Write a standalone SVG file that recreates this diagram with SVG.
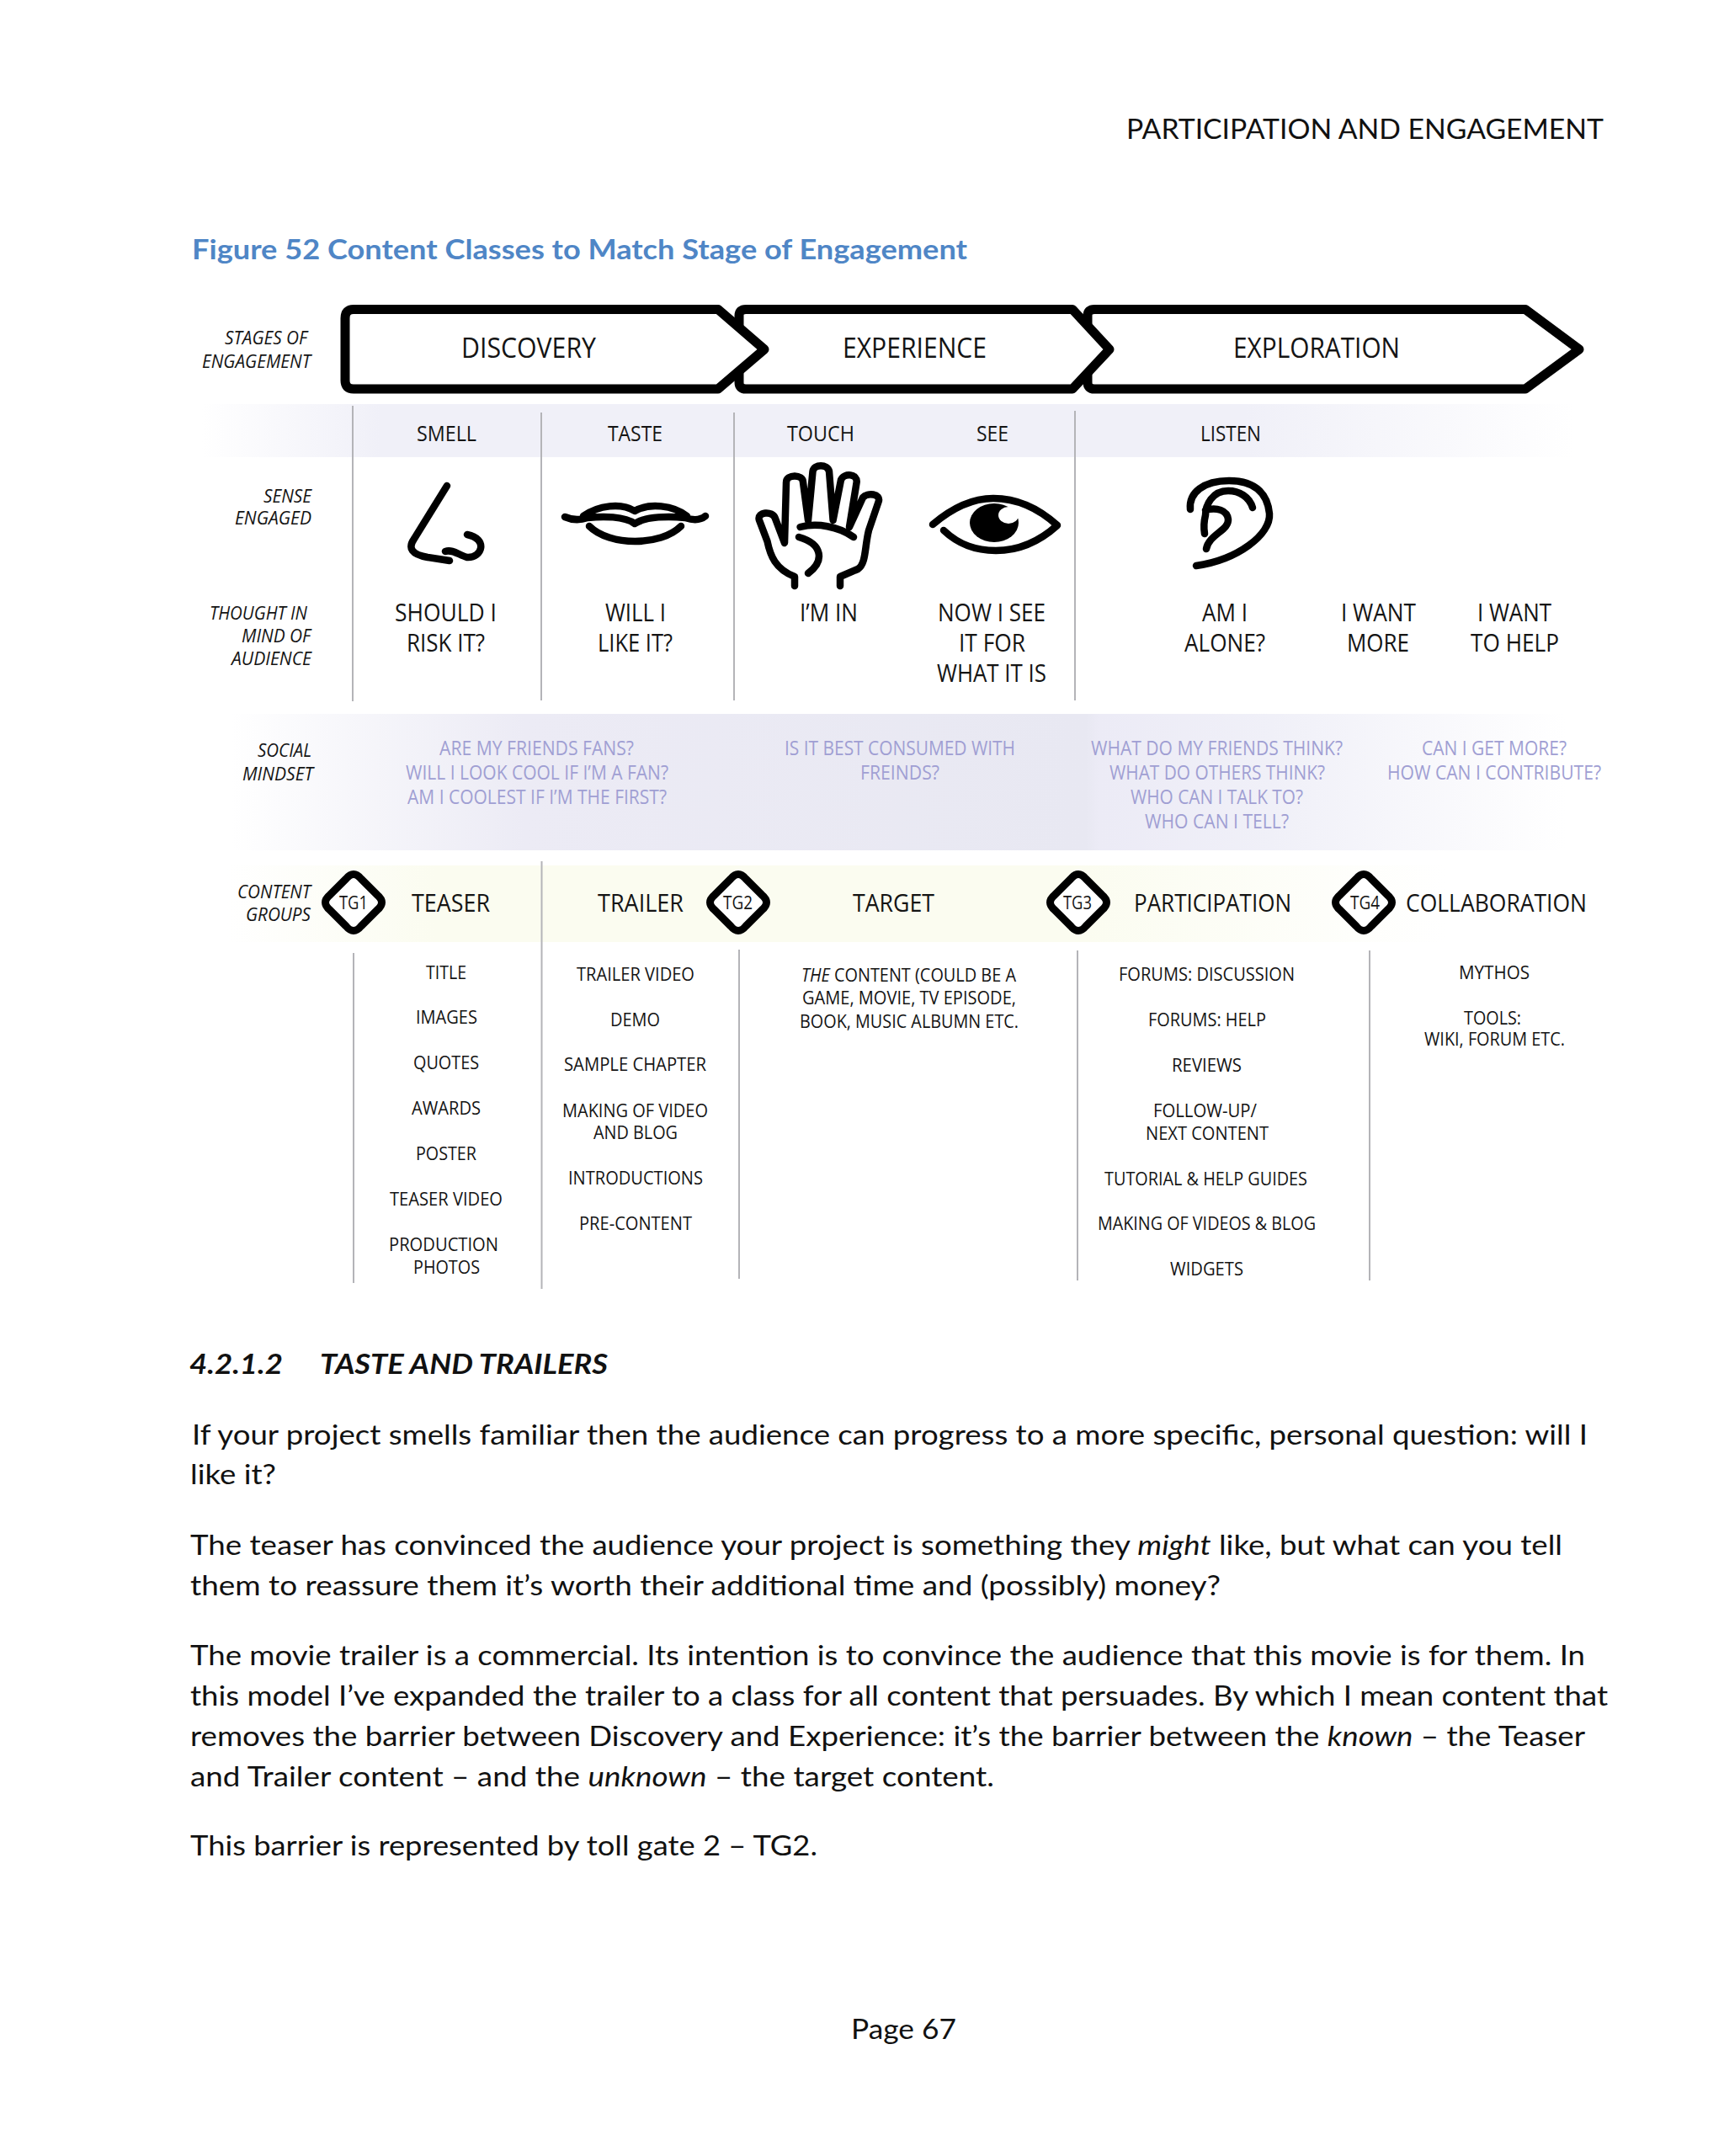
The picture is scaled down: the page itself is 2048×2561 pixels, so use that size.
<svg xmlns="http://www.w3.org/2000/svg" width="2048" height="2561" viewBox="0 0 2048 2561">
<style>
text{font-family:"Open Sans","Liberation Sans",sans-serif;fill:#141414}
.b{font-family:Lato,"Liberation Sans",sans-serif;font-size:33px;fill:#111}
.it{font-style:italic}
.lab{font-style:italic;font-size:21px}
.st{font-size:33px}
.se{font-size:26px}
.th{font-size:30px}
.so{font-size:23px;fill:#a09fd3}
.gr{font-size:30px}
.li{font-size:22px}
.tg{font-size:21px}
.ar{fill:#fff;stroke:#000;stroke-width:11;stroke-linejoin:round}
.ic{fill:none;stroke:#000;stroke-width:8.5;stroke-linecap:round;stroke-linejoin:round}
.v{stroke:#b4b4b8;stroke-width:2;fill:none}
.dm{fill:#fff;stroke:#000;stroke-width:9}
</style>
<defs>
<linearGradient id="gs" gradientUnits="userSpaceOnUse" x1="240" y1="0" x2="1870" y2="0">
<stop offset="0" stop-color="#f0f0f8" stop-opacity="0"/><stop offset=".13" stop-color="#f0f0f8"/><stop offset=".76" stop-color="#f0f0f8"/><stop offset="1" stop-color="#f0f0f8" stop-opacity="0"/>
</linearGradient>
<linearGradient id="gm" gradientUnits="userSpaceOnUse" x1="275" y1="0" x2="1860" y2="0">
<stop offset="0" stop-color="#eaeaf4" stop-opacity="0"/><stop offset=".22" stop-color="#ecebf5"/><stop offset=".64" stop-color="#e8e8f2"/><stop offset=".65" stop-color="#ecebf6"/><stop offset=".78" stop-color="#f0f0f8"/><stop offset="1" stop-color="#f0f0f8" stop-opacity="0"/>
</linearGradient>
<linearGradient id="gg" gradientUnits="userSpaceOnUse" x1="270" y1="0" x2="1720" y2="0">
<stop offset="0" stop-color="#fbfcf0" stop-opacity="0"/><stop offset=".17" stop-color="#fbfcf0"/><stop offset=".7" stop-color="#fbfcf0"/><stop offset="1" stop-color="#fbfcf0" stop-opacity="0"/>
</linearGradient>
<path id="dia" d="M-9,-28 Q0,-39 9,-28 L28,-9 Q39,0 28,9 L9,28 Q0,39 -9,28 L-28,9 Q-39,0 -28,-9Z"/>
</defs>
<rect width="2048" height="2561" fill="#fff"/>

<g id="page-header">
<text class="b" x="1338" y="165" textLength="567" lengthAdjust="spacingAndGlyphs">PARTICIPATION AND ENGAGEMENT</text>
<text class="b" x="228" y="308" textLength="921" lengthAdjust="spacingAndGlyphs" style="font-weight:700;fill:#4f86c6">Figure 52 Content Classes to Match Stage of Engagement</text>
</g>

<g id="bands">
<rect x="240" y="480" width="1630" height="63" fill="url(#gs)"/>
<rect x="275" y="848" width="1585" height="162" fill="url(#gm)"/>
<rect x="270" y="1028" width="1450" height="91" fill="url(#gg)"/>
</g>

<g id="connectors">
<path class="v" d="M419,482V833M643,490V832M872,490V832M1277,488V832M420,1132V1524M643.500,1023V1531M878,1128V1519M1280,1129V1521M1627,1129V1521"/>
</g>

<g id="row-labels">
<text class="lab" x="267" y="409" textLength="98" lengthAdjust="spacingAndGlyphs">STAGES OF</text>
<text class="lab" x="240" y="437" textLength="129" lengthAdjust="spacingAndGlyphs">ENGAGEMENT</text>
<text class="lab" x="313" y="597" textLength="57" lengthAdjust="spacingAndGlyphs">SENSE</text>
<text class="lab" x="279" y="623" textLength="91" lengthAdjust="spacingAndGlyphs">ENGAGED</text>
<text class="lab" x="249" y="736" textLength="116" lengthAdjust="spacingAndGlyphs">THOUGHT IN</text>
<text class="lab" x="287" y="763" textLength="82" lengthAdjust="spacingAndGlyphs">MIND OF</text>
<text class="lab" x="275" y="790" textLength="95" lengthAdjust="spacingAndGlyphs">AUDIENCE</text>
<text class="lab" x="306" y="899" textLength="64" lengthAdjust="spacingAndGlyphs">SOCIAL</text>
<text class="lab" x="288" y="927" textLength="84" lengthAdjust="spacingAndGlyphs">MINDSET</text>
<text class="lab" x="282" y="1067" textLength="87" lengthAdjust="spacingAndGlyphs">CONTENT</text>
<text class="lab" x="292" y="1094" textLength="77" lengthAdjust="spacingAndGlyphs">GROUPS</text>
</g>

<g id="stage-exploration">
<path class="ar" d="M1292,375Q1292,367.500 1300,367.500H1812L1876,415L1812,462H1300Q1292,462 1292,454Z"/>
<text class="st" x="1465" y="425" textLength="198" lengthAdjust="spacingAndGlyphs">EXPLORATION</text>
</g>
<g id="stage-experience">
<path class="ar" d="M878,375Q878,367.500 886,367.500H1274L1318,415L1274,462H886Q878,462 878,454Z"/>
<text class="st" x="1001" y="425" textLength="171" lengthAdjust="spacingAndGlyphs">EXPERIENCE</text>
</g>
<g id="stage-discovery">
<path class="ar" d="M410,378Q410,367.500 420,367.500H853L908,415L853,462H420Q410,462 410,452Z"/>
<text class="st" x="548" y="425" textLength="160" lengthAdjust="spacingAndGlyphs">DISCOVERY</text>
</g>

<g id="sense-smell">
<text class="se" x="495" y="524" textLength="71" lengthAdjust="spacingAndGlyphs">SMELL</text>
<path class="ic" d="M531,577L492,640Q480,657 508,662L534,666M529,655C538,652 546,660 555,662C573,663 580,640 555,635"/>
<text class="th" x="469" y="738" textLength="121" lengthAdjust="spacingAndGlyphs">SHOULD I</text>
<text class="th" x="483" y="774" textLength="93" lengthAdjust="spacingAndGlyphs">RISK IT?</text>
</g>
<g id="sense-taste">
<text class="se" x="722" y="524" textLength="65" lengthAdjust="spacingAndGlyphs">TASTE</text>
<path class="ic" d="M671,614C680,618 689,618 698,615C716,613 742,613 754,622C767,613 796,613 814,615C823,618 832,618 838,613M693,613C711,600 738,597 754,607C771,597 800,600 816,613M700,625C724,649 785,649 809,625"/>
<text class="th" x="719" y="738" textLength="72" lengthAdjust="spacingAndGlyphs">WILL I</text>
<text class="th" x="710" y="774" textLength="89" lengthAdjust="spacingAndGlyphs">LIKE IT?</text>
</g>
<g id="sense-touch">
<text class="se" x="935" y="524" textLength="80" lengthAdjust="spacingAndGlyphs">TOUCH</text>
<path class="ic" transform="translate(-1,3)" d="M945,693V682C922,673 916,657 912.500,640L903,615C899.500,605 919,603 922,613L933,642L935,570C935,560 955,560 955,570L961,615L966.500,557C968,548 984,548 986,557L990.600,615L1000,567C1004,558 1020,560 1018.600,570L1010,623L1026,588C1031,582 1048,583 1044.600,593L1033,627C1028,647 1030,667 1020,673L999,682V693M951.600,623C971,618 997,622 1015,635M950,635C978,643 981,663 961,678"/>
<text class="th" x="950" y="738" textLength="69" lengthAdjust="spacingAndGlyphs">I’M IN</text>
</g>
<g id="sense-see">
<text class="se" x="1160" y="524" textLength="38" lengthAdjust="spacingAndGlyphs">SEE</text>
<path class="ic" d="M1108,623C1135,600 1160,592 1180,592C1210,592 1235,605 1256,624C1235,643 1210,654 1183,654C1160,654 1140,648 1121,630"/>
<ellipse cx="1181" cy="621" rx="29" ry="23"/>
<ellipse cx="1198" cy="612" rx="12" ry="10" fill="#fff"/>
<text class="th" x="1114" y="738" textLength="128" lengthAdjust="spacingAndGlyphs">NOW I SEE</text>
<text class="th" x="1139" y="774" textLength="79" lengthAdjust="spacingAndGlyphs">IT FOR</text>
<text class="th" x="1113" y="810" textLength="130" lengthAdjust="spacingAndGlyphs">WHAT IT IS</text>
</g>
<g id="sense-listen">
<text class="se" x="1426" y="524" textLength="72" lengthAdjust="spacingAndGlyphs">LISTEN</text>
<path class="ic" d="M1421,672C1470,665 1510,635 1508,610C1506,590 1495,571 1460,571C1430,571 1412,585 1414,605M1488,603C1484,590 1472,583 1459,583C1440,583 1432,600 1432,612C1430,620 1430,628 1431,634M1432,606C1445,602 1458,606 1459,617C1460,630 1436,635 1433,652"/>
<text class="th" x="1428" y="738" textLength="54" lengthAdjust="spacingAndGlyphs">AM I</text>
<text class="th" x="1407" y="774" textLength="96" lengthAdjust="spacingAndGlyphs">ALONE?</text>
</g>
<g id="thought-more">
<text class="th" x="1593" y="738" textLength="89" lengthAdjust="spacingAndGlyphs">I WANT</text>
<text class="th" x="1600" y="774" textLength="74" lengthAdjust="spacingAndGlyphs">MORE</text>
</g>
<g id="thought-help">
<text class="th" x="1755" y="738" textLength="88" lengthAdjust="spacingAndGlyphs">I WANT</text>
<text class="th" x="1747" y="774" textLength="105" lengthAdjust="spacingAndGlyphs">TO HELP</text>
</g>

<g id="social-mindset">
<text class="so" x="522" y="897" textLength="231" lengthAdjust="spacingAndGlyphs">ARE MY FRIENDS FANS?</text>
<text class="so" x="482" y="926" textLength="312" lengthAdjust="spacingAndGlyphs">WILL I LOOK COOL IF I’M A FAN?</text>
<text class="so" x="484" y="955" textLength="308" lengthAdjust="spacingAndGlyphs">AM I COOLEST IF I’M THE FIRST?</text>
<text class="so" x="932" y="897" textLength="274" lengthAdjust="spacingAndGlyphs">IS IT BEST CONSUMED WITH</text>
<text class="so" x="1022" y="926" textLength="94" lengthAdjust="spacingAndGlyphs">FREINDS?</text>
<text class="so" x="1296" y="897" textLength="299" lengthAdjust="spacingAndGlyphs">WHAT DO MY FRIENDS THINK?</text>
<text class="so" x="1318" y="926" textLength="256" lengthAdjust="spacingAndGlyphs">WHAT DO OTHERS THINK?</text>
<text class="so" x="1343" y="955" textLength="205" lengthAdjust="spacingAndGlyphs">WHO CAN I TALK TO?</text>
<text class="so" x="1360" y="984" textLength="171" lengthAdjust="spacingAndGlyphs">WHO CAN I TELL?</text>
<text class="so" x="1689" y="897" textLength="172" lengthAdjust="spacingAndGlyphs">CAN I GET MORE?</text>
<text class="so" x="1648" y="926" textLength="254" lengthAdjust="spacingAndGlyphs">HOW CAN I CONTRIBUTE?</text>
</g>

<g id="tg1"><use href="#dia" x="420" y="1072" class="dm"/><text class="tg" x="403" y="1080" textLength="34" lengthAdjust="spacingAndGlyphs">TG1</text></g>
<g id="tg2"><use href="#dia" x="877" y="1072" class="dm"/><text class="tg" x="859" y="1080" textLength="35" lengthAdjust="spacingAndGlyphs">TG2</text></g>
<g id="tg3"><use href="#dia" x="1281" y="1072" class="dm"/><text class="tg" x="1263" y="1080" textLength="34" lengthAdjust="spacingAndGlyphs">TG3</text></g>
<g id="tg4"><use href="#dia" x="1620" y="1072" class="dm"/><text class="tg" x="1604" y="1080" textLength="35" lengthAdjust="spacingAndGlyphs">TG4</text></g>

<g id="group-teaser">
<text class="gr" x="489" y="1083" textLength="93" lengthAdjust="spacingAndGlyphs">TEASER</text>
<text class="li" x="506" y="1163" textLength="48" lengthAdjust="spacingAndGlyphs">TITLE</text>
<text class="li" x="494" y="1216" textLength="73" lengthAdjust="spacingAndGlyphs">IMAGES</text>
<text class="li" x="491" y="1270" textLength="78" lengthAdjust="spacingAndGlyphs">QUOTES</text>
<text class="li" x="489" y="1324" textLength="82" lengthAdjust="spacingAndGlyphs">AWARDS</text>
<text class="li" x="494" y="1378" textLength="72" lengthAdjust="spacingAndGlyphs">POSTER</text>
<text class="li" x="463" y="1432" textLength="134" lengthAdjust="spacingAndGlyphs">TEASER VIDEO</text>
<text class="li" x="462" y="1486" textLength="130" lengthAdjust="spacingAndGlyphs">PRODUCTION</text>
<text class="li" x="491" y="1513" textLength="79" lengthAdjust="spacingAndGlyphs">PHOTOS</text>
</g>
<g id="group-trailer">
<text class="gr" x="710" y="1083" textLength="102" lengthAdjust="spacingAndGlyphs">TRAILER</text>
<text class="li" x="685" y="1165" textLength="140" lengthAdjust="spacingAndGlyphs">TRAILER VIDEO</text>
<text class="li" x="725" y="1219" textLength="59" lengthAdjust="spacingAndGlyphs">DEMO</text>
<text class="li" x="670" y="1272" textLength="169" lengthAdjust="spacingAndGlyphs">SAMPLE CHAPTER</text>
<text class="li" x="668" y="1327" textLength="173" lengthAdjust="spacingAndGlyphs">MAKING OF VIDEO</text>
<text class="li" x="705" y="1353" textLength="100" lengthAdjust="spacingAndGlyphs">AND BLOG</text>
<text class="li" x="675" y="1407" textLength="160" lengthAdjust="spacingAndGlyphs">INTRODUCTIONS</text>
<text class="li" x="688" y="1461" textLength="134" lengthAdjust="spacingAndGlyphs">PRE-CONTENT</text>
</g>
<g id="group-target">
<text class="gr" x="1013" y="1083" textLength="97" lengthAdjust="spacingAndGlyphs">TARGET</text>
<text class="li" x="952" y="1166" textLength="255" lengthAdjust="spacingAndGlyphs"><tspan class="it">THE</tspan> CONTENT (COULD BE A</text>
<text class="li" x="953" y="1193" textLength="254" lengthAdjust="spacingAndGlyphs">GAME, MOVIE, TV EPISODE,</text>
<text class="li" x="950" y="1221" textLength="260" lengthAdjust="spacingAndGlyphs">BOOK, MUSIC ALBUMN ETC.</text>
</g>
<g id="group-participation">
<text class="gr" x="1347" y="1083" textLength="187" lengthAdjust="spacingAndGlyphs">PARTICIPATION</text>
<text class="li" x="1329" y="1165" textLength="209" lengthAdjust="spacingAndGlyphs">FORUMS: DISCUSSION</text>
<text class="li" x="1364" y="1219" textLength="140" lengthAdjust="spacingAndGlyphs">FORUMS: HELP</text>
<text class="li" x="1392" y="1273" textLength="83" lengthAdjust="spacingAndGlyphs">REVIEWS</text>
<text class="li" x="1370" y="1327" textLength="123" lengthAdjust="spacingAndGlyphs">FOLLOW-UP/</text>
<text class="li" x="1361" y="1354" textLength="146" lengthAdjust="spacingAndGlyphs">NEXT CONTENT</text>
<text class="li" x="1312" y="1408" textLength="241" lengthAdjust="spacingAndGlyphs">TUTORIAL &amp; HELP GUIDES</text>
<text class="li" x="1304" y="1461" textLength="259" lengthAdjust="spacingAndGlyphs">MAKING OF VIDEOS &amp; BLOG</text>
<text class="li" x="1390" y="1515" textLength="87" lengthAdjust="spacingAndGlyphs">WIDGETS</text>
</g>
<g id="group-collaboration">
<text class="gr" x="1670" y="1083" textLength="215" lengthAdjust="spacingAndGlyphs">COLLABORATION</text>
<text class="li" x="1733" y="1163" textLength="84" lengthAdjust="spacingAndGlyphs">MYTHOS</text>
<text class="li" x="1739" y="1217" textLength="68" lengthAdjust="spacingAndGlyphs">TOOLS:</text>
<text class="li" x="1692" y="1242" textLength="167" lengthAdjust="spacingAndGlyphs">WIKI, FORUM ETC.</text>
</g>

<g id="body-text">
<text class="b" x="225" y="1632" textLength="111" lengthAdjust="spacingAndGlyphs" style="font-weight:700;font-style:italic">4.2.1.2</text>
<text class="b" x="380" y="1632" textLength="342" lengthAdjust="spacingAndGlyphs" style="font-weight:700;font-style:italic">TASTE AND TRAILERS</text>
<text class="b" x="228" y="1716" textLength="1658" lengthAdjust="spacingAndGlyphs">If your project smells familiar then the audience can progress to a more specific, personal question: will I</text>
<text class="b" x="226" y="1763" textLength="102" lengthAdjust="spacingAndGlyphs">like it?</text>
<text class="b" x="226" y="1847" textLength="1630" lengthAdjust="spacingAndGlyphs">The teaser has convinced the audience your project is something they <tspan class="it">might</tspan> like, but what can you tell</text>
<text class="b" x="226" y="1895" textLength="1224" lengthAdjust="spacingAndGlyphs">them to reassure them it’s worth their additional time and (possibly) money?</text>
<text class="b" x="226" y="1978" textLength="1657" lengthAdjust="spacingAndGlyphs">The movie trailer is a commercial. Its intention is to convince the audience that this movie is for them. In</text>
<text class="b" x="226" y="2026" textLength="1684" lengthAdjust="spacingAndGlyphs">this model I’ve expanded the trailer to a class for all content that persuades. By which I mean content that</text>
<text class="b" x="226" y="2074" textLength="1657" lengthAdjust="spacingAndGlyphs">removes the barrier between Discovery and Experience: it’s the barrier between the <tspan class="it">known</tspan> – the Teaser</text>
<text class="b" x="226" y="2122" textLength="955" lengthAdjust="spacingAndGlyphs">and Trailer content – and the <tspan class="it">unknown</tspan> – the target content.</text>
<text class="b" x="226" y="2204" textLength="745" lengthAdjust="spacingAndGlyphs">This barrier is represented by toll gate 2 – TG2.</text>
<text class="b" x="1011" y="2422" textLength="125" lengthAdjust="spacingAndGlyphs">Page 67</text>
</g>
</svg>
